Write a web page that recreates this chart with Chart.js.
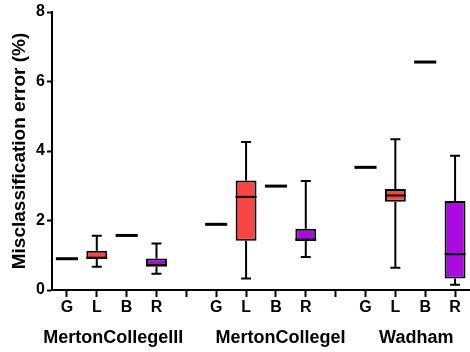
<!DOCTYPE html>
<html>
<head>
<meta charset="utf-8">
<script src="https://cdn.jsdelivr.net/npm/chart.js@4"></script>
<style>
  html, body { margin: 0; padding: 0; background: #fff; }
  #wrap { width: 470px; height: 352px; }
</style>
</head>
<body>
<div id="wrap"><canvas id="myChart"></canvas></div>
<script>
const categories = ['G', 'L', 'B', 'R', '', 'G', 'L', 'B', 'R', '', 'G', 'L', 'B', 'R'];
const groups = ['MertonCollegeIII', 'MertonCollegeI', 'Wadham'];
const yTicks = [0, 2, 4, 6, 8];

// box plot stats per category (G and B are single values)
const lowWhisker  = [0.90, 0.67, 1.57, 0.47, null, 1.89, 0.33, 2.99, 0.95, null, 3.53, 0.64, 6.56, 0.15];
const q1          = [0.90, 0.89, 1.57, 0.67, null, 1.89, 1.42, 2.99, 1.41, null, 3.53, 2.54, 6.56, 0.33];
const medians     = [0.90, 0.93, 1.57, 0.72, null, 1.89, 2.68, 2.99, 1.45, null, 3.53, 2.72, 6.56, 1.03];
const q3          = [0.90, 1.13, 1.57, 0.91, null, 1.89, 3.15, 2.99, 1.76, null, 3.53, 2.91, 6.56, 2.56];
const highWhisker = [0.90, 1.56, 1.57, 1.34, null, 1.89, 4.26, 2.99, 3.14, null, 3.53, 4.34, 6.56, 3.86];

const FONT = "'Liberation Sans', Arial, sans-serif";
const colors = { L: '#F94444', R: '#A90BE0' };

const boxes = q1.map((lo, i) => (lo === null || lo === q3[i]) ? null : [lo, q3[i]]);
const boxColors = categories.map(c => colors[c] || 'rgba(0,0,0,0)');

// whiskers, medians and group names
const boxPlotPlugin = {
    id: 'boxPlot',
    beforeDatasetsDraw(chart) {
        const ctx = chart.ctx;
        const x = chart.scales.x, y = chart.scales.y;
        ctx.save();
        ctx.strokeStyle = '#000';
        ctx.lineWidth = 2;
        categories.forEach((c, i) => {
            if (!boxes[i]) return;
            const px = x.getPixelForValue(i);
            const cap = 5;
            [[q3[i], highWhisker[i]], [q1[i], lowWhisker[i]]].forEach(([a, b]) => {
                ctx.beginPath();
                ctx.moveTo(px, y.getPixelForValue(a));
                ctx.lineTo(px, y.getPixelForValue(b));
                ctx.moveTo(px - cap, y.getPixelForValue(b));
                ctx.lineTo(px + cap, y.getPixelForValue(b));
                ctx.stroke();
            });
        });
        ctx.restore();
    },
    afterDatasetsDraw(chart) {
        const ctx = chart.ctx;
        const x = chart.scales.x, y = chart.scales.y;
        const slot = x.width / categories.length;
        ctx.save();
        ctx.strokeStyle = '#000';
        categories.forEach((c, i) => {
            if (medians[i] === null) return;
            const px = x.getPixelForValue(i);
            const half = boxes[i] ? slot * 0.35 : slot * 0.37;
            ctx.lineWidth = boxes[i] ? 2 : 3;
            const py = y.getPixelForValue(medians[i]);
            ctx.beginPath();
            ctx.moveTo(px - half, py);
            ctx.lineTo(px + half, py);
            ctx.stroke();
        });
        // group names under the category letters
        ctx.fillStyle = '#000';
        ctx.font = 'bold 18px ' + FONT;
        ctx.textAlign = 'center';
        ctx.textBaseline = 'alphabetic';
        const at = [1.55, 7.15, 11.7];
        groups.forEach((g, k) => {
            ctx.fillText(g, x.getPixelForValue(at[k]), chart.chartArea.bottom + 53);
        });
        ctx.restore();
    }
};

const ctx = document.getElementById('myChart').getContext('2d');

const myChart = new Chart(ctx, {
    type: 'bar',
    data: {
        labels: categories,
        datasets: [{
            label: 'IQR',
            data: boxes,
            backgroundColor: boxColors,
            borderColor: '#000',
            borderWidth: 2,
            borderSkipped: false,
            barPercentage: 0.7,
            categoryPercentage: 1.0
        }]
    },
    options: {
        responsive: true,
        maintainAspectRatio: false,
        animation: false,
        layout: {
            padding: { top: 12, bottom: 0, left: 0, right: 0 }
        },
        plugins: {
            legend: { display: false },
            tooltip: { enabled: false }
        },
        scales: {
            x: {
                offset: true,
                grid: {
                    offset: false,
                    drawOnChartArea: false,
                    drawTicks: true,
                    tickLength: 7,
                    tickWidth: 2,
                    tickColor: '#000'
                },
                border: { color: '#000', width: 2 },
                ticks: {
                    color: '#000',
                    autoSkip: false,
                    maxRotation: 0,
                    padding: 1,
                    font: { family: FONT, size: 16, weight: 'bold' }
                },
                afterFit: scale => { scale.height = 62; }
            },
            y: {
                min: 0,
                max: 8,
                afterBuildTicks: scale => { scale.ticks = yTicks.map(v => ({ value: v })); },
                grid: {
                    drawOnChartArea: false,
                    drawTicks: true,
                    tickLength: 5,
                    tickWidth: 2,
                    tickColor: '#000'
                },
                border: { color: '#000', width: 2 },
                ticks: {
                    color: '#000',
                    padding: 2,
                    font: { family: FONT, size: 16, weight: 'bold' }
                },
                title: {
                    display: true,
                    text: 'Misclassification error (%)',
                    color: '#000',
                    padding: { top: 8, bottom: 0 },
                    font: { family: FONT, size: 19, weight: 'bold' }
                },
                afterFit: scale => { scale.width = 52; }
            }
        }
    },
    plugins: [boxPlotPlugin]
});
</script>
</body>
</html>
